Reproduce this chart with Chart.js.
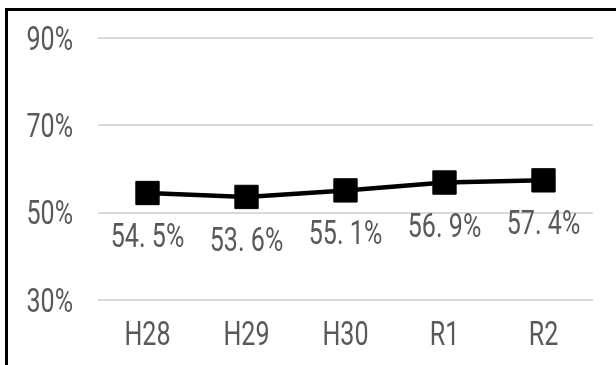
<!DOCTYPE html>
<html>
<head>
<meta charset="utf-8">
<script src="https://cdn.jsdelivr.net/npm/chart.js@4"></script>
<style>
  html, body { margin: 0; padding: 0; background: #fff; }
  #wrap { position: relative; width: 616px; height: 365px; overflow: hidden; }
  #frame {
    position: absolute; left: 5px; top: 8px; width: 700px; height: 400px;
    border-top: 3px solid #000; border-left: 3px solid #000; pointer-events: none;
  }
</style>
</head>
<body>
<div id="wrap">
  <canvas id="chart" width="616" height="365"></canvas>
  <div id="frame"></div>
</div>
<script>
const years = ['H28', 'H29', 'H30', 'R1', 'R2']
const rates = [54.5, 53.6, 55.1, 56.9, 57.4]
const yTicks = [30, 50, 70, 90]

const textFont = '33px Roboto'
const textColor = '#595959'
const squeeze = 0.76   // narrow the glyphs horizontally

// draws text squeezed horizontally; baseline at y, aligned around x
function narrowText(ctx, text, x, y, align) {
  ctx.save()
  ctx.font = textFont
  ctx.fillStyle = textColor
  ctx.textBaseline = 'alphabetic'
  ctx.textAlign = align
  ctx.translate(x, y)
  ctx.scale(squeeze, 1)
  ctx.fillText(text, 0, 0)
  ctx.restore()
}

const textLayer = {
  id: 'textLayer',
  afterDraw(chart) {
    const ctx = chart.ctx
    const xs = chart.scales.x
    const ys = chart.scales.y
    // axis labels
    yTicks.forEach(v => {
      narrowText(ctx, v + '%', 73, ys.getPixelForValue(v) + 11.8, 'right')
    })
    years.forEach((name, i) => {
      narrowText(ctx, name, xs.getPixelForValue(i), chart.chartArea.bottom + 45, 'center')
    })
    // value labels under each point
    chart.getDatasetMeta(0).data.forEach((pt, i) => {
      const text = rates[i].toFixed(1).replace('.', '. ') + '%'
      narrowText(ctx, text, pt.x, pt.y + 54, 'center')
    })
  }
}

new Chart(document.getElementById('chart'), {
  type: 'line',
  data: {
    labels: years,
    datasets: [{
      data: rates,
      borderColor: '#000',
      borderWidth: 4.5,
      tension: 0,
      pointStyle: 'rect',
      pointRadius: 16.5,
      pointBackgroundColor: '#000',
      pointBorderColor: '#000',
      pointBorderWidth: 1
    }]
  },
  options: {
    responsive: false,
    animation: false,
    layout: { padding: { top: 38, right: 23, bottom: 0, left: 0 } },
    plugins: {
      legend: { display: false },
      tooltip: { enabled: false }
    },
    scales: {
      x: {
        offset: true,
        grid: { display: false },
        border: { display: false },
        ticks: { display: false },
        afterFit(scale) { scale.height = 65 }
      },
      y: {
        min: 30,
        max: 90,
        afterBuildTicks(scale) { scale.ticks = yTicks.map(v => ({ value: v })) },
        grid: { color: '#d9d9d9', lineWidth: 2, drawTicks: false },
        border: { display: false },
        ticks: { display: false },
        afterFit(scale) { scale.width = 98 }
      }
    }
  },
  plugins: [textLayer]
})
</script>
</body>
</html>
